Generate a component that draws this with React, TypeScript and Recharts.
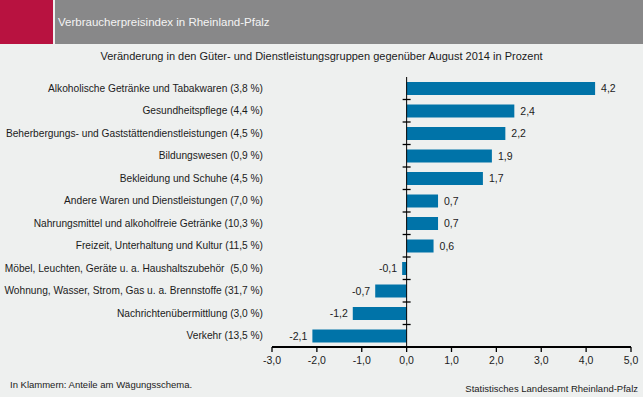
import { BarChart, Bar, XAxis, YAxis, ReferenceLine, LabelList } from "recharts"

// ============================================
// DATA
// ============================================

const categories = [
  "Alkoholische Getränke und Tabakwaren (3,8 %)",
  "Gesundheitspflege (4,4 %)",
  "Beherbergungs- und Gaststättendienstleistungen (4,5 %)",
  "Bildungswesen (0,9 %)",
  "Bekleidung und Schuhe (4,5 %)",
  "Andere Waren und Dienstleistungen (7,0 %)",
  "Nahrungsmittel und alkoholfreie Getränke (10,3 %)",
  "Freizeit, Unterhaltung und Kultur (11,5 %)",
  "Möbel, Leuchten, Geräte u. a. Haushaltszubehör  (5,0 %)",
  "Wohnung, Wasser, Strom, Gas u. a. Brennstoffe (31,7 %)",
  "Nachrichtenübermittlung (3,0 %)",
  "Verkehr (13,5 %)",
]

const changes = [4.2, 2.4, 2.2, 1.9, 1.7, 0.7, 0.7, 0.6, -0.1, -0.7, -1.2, -2.1]

const xTicks = [-3, -2, -1, 0, 1, 2, 3, 4, 5]

const data = categories.map((name, i) => ({ name, value: changes[i] }))

// ============================================
// STYLE
// ============================================

const FONT = "'Liberation Sans', Arial, sans-serif"
const BAR_COLOR = "#0073a8"
const TEXT = "#1b1b1b"

const fmt = (v: number) => v.toFixed(1).replace(".", ",")

// zero line with small ticks between the groups
function ZeroLine(props: any) {
  const { x1, y1, x2, y2 } = props
  const n = data.length
  const ticks = []
  for (let i = 0; i < n; i++) {
    const y = y1 + ((y2 - y1) * i) / n
    ticks.push(<line key={i} x1={x1 - 4} x2={x1 + 4} y1={y} y2={y} stroke="#000" strokeWidth={1.3} />)
  }
  return (
    <g>
      <line x1={x1} y1={y1} x2={x2} y2={y2} stroke="#000" strokeWidth={1} />
      {ticks}
    </g>
  )
}

// category label, one line, right aligned
function CategoryTick(props: any) {
  const { x, y, payload } = props
  return (
    <text x={x} y={y} dy="0.35em" textAnchor="end" fontSize={10.2} fontFamily={FONT} fill={TEXT} style={{ whiteSpace: "pre" }}>
      {payload.value}
    </text>
  )
}

function ValueLabel(props: any) {
  const { x, y, width, height, value } = props
  const left = Math.min(x, x + width)
  const right = Math.max(x, x + width)
  const neg = value < 0
  return (
    <text
      x={neg ? left - 5 : right + 6}
      y={y + height / 2}
      dy="0.35em"
      textAnchor={neg ? "end" : "start"}
      fontSize={10.5}
      fontFamily={FONT}
      fill={TEXT}
    >
      {fmt(value)}
    </text>
  )
}

export default function App() {
  return (
    <div style={{ position: "relative", width: 643, height: 397, background: "#eef0ef", fontFamily: FONT, overflow: "hidden" }}>
      <style>{"body{margin:0}"}</style>

      {/* Kopfzeile */}
      <div style={{ position: "absolute", left: 0, top: 0, width: 53, height: 44, background: "#b81240" }} />
      <div style={{ position: "absolute", left: 55, top: 0, width: 588, height: 44, background: "#888889" }} />
      <div style={{ position: "absolute", left: 58, top: 16, fontSize: 11.5, color: "#f4f4f4", whiteSpace: "nowrap" }}>
        Verbraucherpreisindex in Rheinland-Pfalz
      </div>
      <div style={{ position: "absolute", left: 0, top: 50, width: 643, textAlign: "center", fontSize: 11, color: TEXT, whiteSpace: "nowrap" }}>
        Veränderung in den Güter- und Dienstleistungsgruppen gegenüber August 2014 in Prozent
      </div>

      <div style={{ position: "absolute", left: 0, top: 0 }}>
        <BarChart
          width={643}
          height={397}
          data={data}
          layout="vertical"
          margin={{ top: 77, right: 12, left: 0, bottom: 0 }}
          barCategoryGap={0}
        >
          <XAxis
            type="number"
            domain={[-3, 5]}
            ticks={xTicks}
            interval={0}
            tickFormatter={fmt}
            axisLine={{ stroke: "#000", strokeWidth: 2 }}
            tickLine={{ stroke: "#000", strokeWidth: 1.3 }}
            tickSize={5}
            tickMargin={5}
            tick={{ fontSize: 10.5, fill: TEXT, fontFamily: FONT }}
            height={50}
          />
          <YAxis
            type="category"
            dataKey="name"
            width={272}
            axisLine={false}
            tickLine={false}
            tickSize={0}
            tickMargin={9}
            interval={0}
            tick={CategoryTick}
          />
          <Bar dataKey="value" fill={BAR_COLOR} barSize={13} isAnimationActive={false}>
            <LabelList dataKey="value" content={ValueLabel} />
          </Bar>
          <ReferenceLine x={0} shape={ZeroLine} />
        </BarChart>
      </div>

      {/* Fußzeile */}
      <div style={{ position: "absolute", left: 10, top: 379, fontSize: 9.5, color: TEXT, whiteSpace: "nowrap" }}>
        In Klammern: Anteile am Wägungsschema.
      </div>
      <div style={{ position: "absolute", right: 5, top: 383, fontSize: 9.5, color: TEXT, whiteSpace: "nowrap" }}>
        Statistisches Landesamt Rheinland-Pfalz
      </div>
    </div>
  )
}
